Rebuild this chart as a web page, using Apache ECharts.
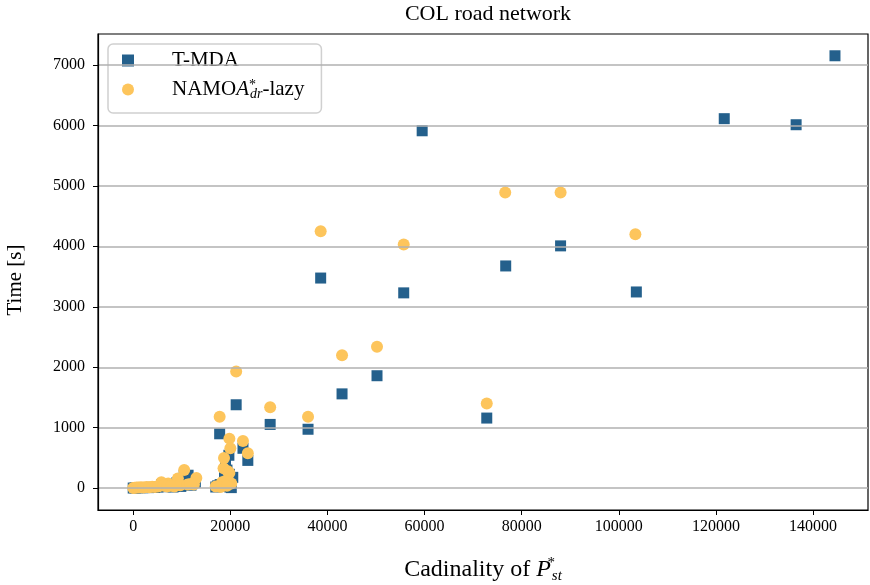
<!DOCTYPE html>
<html><head><meta charset="utf-8">
<script src="https://cdn.jsdelivr.net/npm/echarts@6/dist/echarts.min.js"></script>
<style>html,body{margin:0;padding:0;background:#fff}#c{width:870px;height:585px}</style>
</head><body><div id="c"></div>
<script>
const xTicks = [0, 20000, 40000, 60000, 80000, 100000, 120000, 140000];
const yTicks = [0, 1000, 2000, 3000, 4000, 5000, 6000, 7000];

const tmdaX = [144500,136500,121700,88000,76700,103600,59500,55700,38600,43000,50200,72800,28200,36000,21200,17800,22600,23600,19700,19000,19300,18800,19800,20500,12500,10500,11300,11900,12800,
  0,400,900,1400,2000,2600,3200,3800,4400,5100,5900,6600,7400,8200,9000,9800,17000,17400,17900,18300,18600,19100,19500,19900,20200];
const tmdaY = [7150,6010,6110,4007,3675,3245,5910,3230,3475,1560,1860,1160,1055,975,1380,900,660,460,545,420,300,180,230,180,100,215,215,50,100,
  3,5,8,10,8,12,10,15,12,20,60,25,30,20,90,30,20,40,60,30,80,100,50,20,10];

const namoaX = [38600,55700,76600,88000,103400,43000,50200,72800,28200,36000,21200,17800,19800,22600,23600,20000,18700,18600,19500,19800,18300,19000,20200,17000,18000,19300,
  10500,13000,12500,9200,7200,5800,8500,6500,0,300,700,1100,1600,2100,2700,3300,3900,4500,5200,6300,7000,7800,9700,11200,11800];
const namoaY = [4250,4030,4890,4890,4200,2200,2340,1400,1340,1180,1930,1180,820,780,580,660,500,330,280,250,100,120,80,30,20,40,
  300,170,60,160,80,100,30,40,5,8,10,12,15,10,20,15,25,20,30,45,30,40,50,60,70];

const tmda = tmdaX.map((x, i) => [x, tmdaY[i]]);
const namoa = namoaX.map((x, i) => [x, namoaY[i]]);

const FONT = '"Liberation Serif", "DejaVu Serif", serif';
const chart = echarts.init(document.getElementById('c'));
chart.setOption({
  animation: false,
  textStyle: { fontFamily: FONT },
  title: {
    text: 'COL road network', left: 483, top: -2, textAlign: 'center',
    textStyle: { fontFamily: FONT, fontSize: 22, fontWeight: 'normal', color: '#000' }
  },
  grid: { left: 98, right: 2, top: 34, bottom: 75, outerBoundsMode: 'none', containLabel: false,
    show: true, borderColor: '#000', borderWidth: 1.2 },
  legend: {
    orient: 'vertical', left: 108, top: 44,
    padding: [6, 17, 12, 14], itemGap: 7,
    itemWidth: 12, itemHeight: 12,
    borderColor: '#d0d0d0', borderWidth: 1.5, borderRadius: 5, backgroundColor: 'rgba(255,255,255,0.85)',
    data: [{ name: 'T-MDA', icon: 'rect' }, { name: 'NAMOA', icon: 'circle' }],
    formatter: function (n) {
      return n === 'T-MDA' ? '{p|T-MDA}' : '{p|NAMO}{i|A}{sup|*}{sub|dr}{t|-lazy}';
    },
    textStyle: {
      fontFamily: FONT, fontSize: 21, color: '#000',
      rich: {
        p: { fontSize: 21, lineHeight: 23, fontFamily: FONT, padding: [0, 0, 0, 33] },
        t: { fontSize: 21, lineHeight: 23, fontFamily: FONT },
        i: { fontSize: 21, lineHeight: 23, fontStyle: 'italic', fontFamily: FONT },
        sup: { fontSize: 14, lineHeight: 23, verticalAlign: 'top', fontFamily: FONT, width: 1 },
        sub: { fontSize: 14, lineHeight: 23, verticalAlign: 'bottom', fontStyle: 'italic', fontFamily: FONT, padding: [7, 0, 0, 0] }
      }
    }
  },
  xAxis: {
    type: 'value', min: -7250, max: 151300,
    name: '{t|Cadinality of }{i|P}{sup|*}{sub|st}', nameLocation: 'middle', nameGap: 46,
    nameTextStyle: {
      color: '#000',
      rich: {
        t: { fontSize: 24, lineHeight: 28, fontFamily: FONT, color: '#000' },
        i: { fontSize: 24, lineHeight: 28, fontStyle: 'italic', fontFamily: FONT, color: '#000' },
        sup: { fontSize: 15, lineHeight: 28, verticalAlign: 'top', fontFamily: FONT, color: '#000', width: 1 },
        sub: { fontSize: 15, lineHeight: 28, verticalAlign: 'bottom', fontStyle: 'italic', fontFamily: FONT, color: '#000', padding: [9, 0, 0, 0] }
      }
    },
    axisLine: { show: true, onZero: false, lineStyle: { color: '#000', width: 1.2 } },
    axisTick: { show: true, length: 5, customValues: xTicks, lineStyle: { color: '#000' } },
    axisLabel: { customValues: xTicks, color: '#000', fontSize: 16, margin: 9, fontFamily: FONT,
      formatter: v => String(v) },
    splitLine: { show: false }
  },
  yAxis: {
    type: 'value', min: -360, max: 7510, z: 5,
    name: 'Time [s]', nameLocation: 'middle', nameGap: 72,
    nameTextStyle: { fontSize: 21, color: '#000', fontFamily: FONT, padding: [0, 16, 0, 0] },
    axisLine: { show: true, onZero: false, lineStyle: { color: '#000', width: 1.2 } },
    axisTick: { show: true, length: 5, customValues: yTicks, lineStyle: { color: '#000' } },
    axisLabel: { customValues: yTicks, color: '#000', fontSize: 16, margin: 13, fontFamily: FONT,
      formatter: v => String(v) },
    splitLine: { show: true, lineStyle: { color: '#b0b0b0', width: 1.5 } }
  },
  series: [
    { name: 'T-MDA', type: 'scatter', symbol: 'rect', symbolSize: 11, data: tmda,
      itemStyle: { color: '#24608c', opacity: 1 } },
    { name: 'NAMOA', type: 'scatter', symbol: 'circle', symbolSize: 12, data: namoa,
      itemStyle: { color: '#fdc55c', opacity: 1 } }
  ]
});
</script></body></html>
